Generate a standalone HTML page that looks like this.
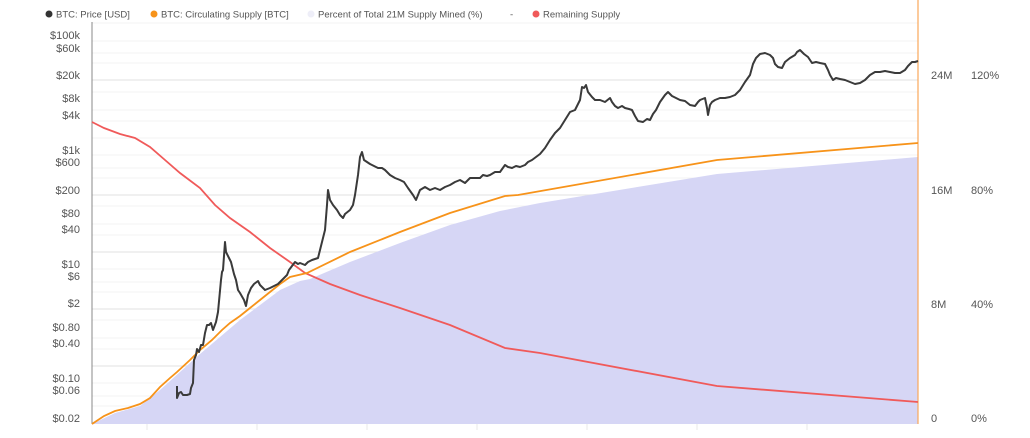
<!DOCTYPE html>
<html><head><meta charset="utf-8"><style>
html,body{margin:0;padding:0;background:#fff;}
svg{display:block;font-family:"Liberation Sans",sans-serif;}
</style></head><body>
<svg width="1030" height="438" viewBox="0 0 1030 438" xmlns="http://www.w3.org/2000/svg">
<g font-size="9.5" fill="#555">
<circle cx="49" cy="14" r="3.5" fill="#333"/><text x="56" y="17.5">BTC: Price [USD]</text>
<circle cx="154" cy="14" r="3.5" fill="#f7931a"/><text x="161" y="17.5">BTC: Circulating Supply [BTC]</text>
<circle cx="311" cy="14" r="3.5" fill="#eeeef8"/><text x="318" y="17.5">Percent of Total 21M Supply Mined (%)</text>
<text x="510" y="17.5">-</text>
<circle cx="536" cy="14" r="3.5" fill="#f05a5a"/><text x="543" y="17.5">Remaining Supply</text>
</g>
<g stroke="#f3f3f3" stroke-width="1">
<line x1="92" x2="918" y1="23" y2="23"/>
<line x1="92" x2="918" y1="41" y2="41"/><line x1="92" x2="918" y1="53" y2="53"/><line x1="92" x2="918" y1="63" y2="63"/>
<line x1="92" x2="918" y1="92" y2="92"/><line x1="92" x2="918" y1="110" y2="110"/><line x1="92" x2="918" y1="121" y2="121"/>
<line x1="92" x2="918" y1="138" y2="138"/><line x1="92" x2="918" y1="155" y2="155"/><line x1="92" x2="918" y1="168" y2="168"/><line x1="92" x2="918" y1="178" y2="178"/>
<line x1="92" x2="918" y1="206" y2="206"/><line x1="92" x2="918" y1="224" y2="224"/><line x1="92" x2="918" y1="235" y2="235"/>
<line x1="92" x2="918" y1="269" y2="269"/><line x1="92" x2="918" y1="282" y2="282"/><line x1="92" x2="918" y1="292" y2="292"/>
<line x1="92" x2="918" y1="320" y2="320"/><line x1="92" x2="918" y1="338" y2="338"/><line x1="92" x2="918" y1="349" y2="349"/>
<line x1="92" x2="918" y1="383" y2="383"/><line x1="92" x2="918" y1="396" y2="396"/><line x1="92" x2="918" y1="406" y2="406"/>
</g>
<g stroke="#e6e6e6" stroke-width="1.2">
<line x1="92" x2="918" y1="80" y2="80"/><line x1="92" x2="918" y1="195" y2="195"/><line x1="92" x2="918" y1="252" y2="252"/><line x1="92" x2="918" y1="309" y2="309"/><line x1="92" x2="918" y1="366" y2="366"/>
</g>
<polygon fill="#d6d6f5" points="92,424 115,413 140,406 160,390 200,354 240,320 280,290 300,281 310,279 350,262 400,243 450,225 500,211 540,203 717,174 918,157 918,424"/>
<g stroke="#e8e8e8" stroke-width="1">
<line x1="147" x2="147" y1="424" y2="430"/><line x1="257" x2="257" y1="424" y2="430"/><line x1="367" x2="367" y1="424" y2="430"/><line x1="477" x2="477" y1="424" y2="430"/><line x1="587" x2="587" y1="424" y2="430"/><line x1="697" x2="697" y1="424" y2="430"/><line x1="807" x2="807" y1="424" y2="430"/>
</g>
<line x1="92" y1="22" x2="92" y2="424" stroke="#888" stroke-width="1"/>
<line x1="918" y1="0" x2="918" y2="424" stroke="#f9a85a" stroke-width="1.2"/>
<polyline fill="none" stroke="#f05a5a" stroke-width="1.8" points="92,122 104,128 120,134 135,138 150,147 165,160 180,173 200,188 215,205 230,218 250,232 270,248 290,262 305,273 330,284 360,295 400,308 450,325 505,348 540,353 717,386 918,402"/>
<polyline fill="none" stroke="#f7931a" stroke-width="1.8" points="92,424 104,416 115,411 128,408 140,404 150,398 160,387 170,378 177,372 190,360 200,350 212,340 222,330 230,323 240,316 250,308 260,300 270,292 280,284 290,277 307,273 350,252 400,232 450,213 505,196 518,195 717,160 918,143"/>
<polyline fill="none" stroke="#3a3a3a" stroke-width="2" stroke-linejoin="round" points="177,386 177,398 179,393 181,392 183,395 187,395 190,394 191,388 193,383 194,360 196,355 197,349 199,352 201,345 203,345 205,333 207,325 209,325 211,323 213,330 216,322 218,312 221,280 222,272 223,270 225,242 226,252 229,258 231,262 234,274 236,280 238,290 240,293 244,300 246,306 248,295 251,288 254,284 258,281 260,285 265,290 270,288 274,286 278,284 282,280 287,275 289,270 292,266 295,262 298,264 300,263 305,265 308,262 312,260 318,258 320,250 322,242 325,230 327,205 328,190 330,200 333,205 337,210 340,215 343,218 345,214 350,210 353,205 355,195 358,175 360,157 362,152 364,160 367,162 370,164 374,166 378,168 382,168 385,170 390,175 395,178 400,180 404,182 408,188 413,195 416,200 420,190 425,187 430,190 435,188 440,190 445,187 450,185 455,182 460,180 465,183 470,178 475,178 480,178 483,175 487,176 490,175 495,172 500,172 505,165 508,167 512,168 516,166 520,167 525,165 528,162 532,160 536,157 540,154 545,148 550,140 555,133 560,128 565,120 570,112 575,110 580,100 582,87 584,88 586,85 588,92 592,97 595,100 600,100 605,102 610,98 612,102 615,106 618,108 622,106 625,108 629,109 632,110 635,116 638,121 643,122 647,119 650,120 653,114 656,110 660,102 665,95 668,92 672,96 676,98 680,100 685,101 690,105 695,106 698,102 700,100 705,98 707,108 708,115 710,105 712,102 715,100 720,98 725,98 730,97 735,95 740,90 745,82 750,75 753,64 756,58 760,54 765,53 770,55 773,58 775,64 778,67 782,68 785,62 790,58 795,55 797,52 800,50 804,54 808,57 812,63 816,62 820,63 825,64 828,70 830,75 833,80 836,78 840,79 845,80 850,82 855,84 860,83 865,80 870,75 875,72 880,72 885,71 890,72 895,73 900,73 905,70 908,66 912,62 915,62 918,61"/>
<g font-size="11" fill="#555" text-anchor="end">
<text x="80" y="39">$100k</text><text x="80" y="52">$60k</text><text x="80" y="79">$20k</text><text x="80" y="102">$8k</text><text x="80" y="119">$4k</text>
<text x="80" y="154">$1k</text><text x="80" y="166">$600</text><text x="80" y="194">$200</text><text x="80" y="217">$80</text><text x="80" y="233">$40</text>
<text x="80" y="268">$10</text><text x="80" y="280">$6</text><text x="80" y="307">$2</text><text x="80" y="331">$0.80</text><text x="80" y="347">$0.40</text>
<text x="80" y="382">$0.10</text><text x="80" y="394">$0.06</text><text x="80" y="422">$0.02</text>
</g>
<g font-size="11" fill="#555">
<text x="931" y="79">24M</text><text x="931" y="194">16M</text><text x="931" y="308">8M</text><text x="931" y="422">0</text>
<text x="971" y="79">120%</text><text x="971" y="194">80%</text><text x="971" y="308">40%</text><text x="971" y="422">0%</text>
</g>
</svg>
</body></html>
